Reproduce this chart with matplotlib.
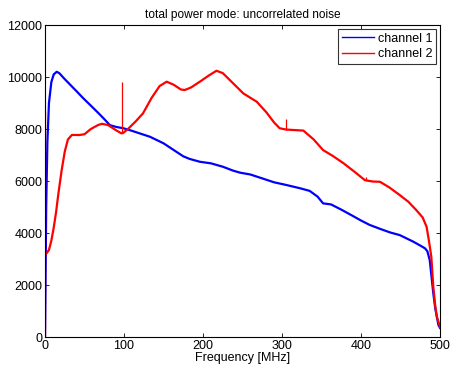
import matplotlib
matplotlib.use("Agg")
import matplotlib.pyplot as plt

plt.rcParams['font.family'] = ['Liberation Sans', 'DejaVu Sans']

# Channel 1 total power spectrum (MHz, counts)
freq_ch1 = [0, 0.5, 1.5, 3, 5, 8, 11, 14.8, 18, 24, 32, 40, 48.5, 58, 68, 76, 82, 90, 99,
            108, 118, 133, 150, 165, 175, 183, 196, 210, 225, 238, 247, 260, 275, 290,
            305, 323, 335, 345, 352, 362, 375, 390, 400, 411, 425, 437, 449, 466, 476,
            481, 484, 487, 489, 491.5, 494, 498, 500]
power_ch1 = [0, 1500, 5000, 7500, 9000, 9800, 10100, 10200, 10150, 9950, 9700, 9450, 9180,
             8900, 8600, 8350, 8150, 8080, 8030, 7950, 7850, 7700, 7450, 7150, 6950, 6850,
             6740, 6680, 6550, 6400, 6320, 6250, 6100, 5950, 5850, 5720, 5620, 5400, 5140,
             5100, 4900, 4650, 4480, 4310, 4150, 4020, 3920, 3670, 3500, 3410, 3300, 2960,
             2400, 1690, 1100, 460, 350]

# Channel 2 total power spectrum (MHz, counts)
freq_ch2 = [1, 2, 5, 8, 11, 14, 17, 21, 25, 29, 34, 44, 50, 58, 67, 72, 80, 90, 97, 99, 105,
            115, 124, 135, 145, 154, 163, 172, 177, 185, 196, 207, 217, 225, 235, 251, 260,
            268, 280, 290, 297, 305, 315, 327, 340, 352, 365, 378, 392, 405, 415, 424, 436,
            449, 460, 470, 478, 483, 486, 489, 491.5, 494, 496, 500]
power_ch2 = [3200, 3220, 3350, 3700, 4200, 4800, 5530, 6400, 7130, 7600, 7770, 7770, 7800,
             8000, 8150, 8200, 8150, 7950, 7830, 7850, 8000, 8300, 8600, 9200, 9650, 9820,
             9700, 9520, 9500, 9600, 9820, 10050, 10240, 10150, 9850, 9370, 9200, 9050,
             8650, 8250, 8030, 7980, 7960, 7940, 7600, 7190, 6950, 6680, 6350, 6030, 5980,
             5970, 5750, 5460, 5200, 4880, 4600, 4240, 3700, 3090, 1940, 1200, 780, 400]

# Narrow interference lines on channel 2 (frequency, bottom, top)
spike_freq_ch2 = [0.3, 98, 305, 406]
spike_low_ch2 = [0, 7830, 7980, 6030]
spike_high_ch2 = [8700, 9820, 8380, 6150]

x_ticks = [0, 100, 200, 300, 400, 500]
y_ticks = [0, 2000, 4000, 6000, 8000, 10000, 12000]

fig = plt.figure(figsize=(4.51, 3.65), dpi=100)
ax = fig.add_axes([0.0998, 0.0767, 0.8758, 0.8548])

ax.plot(freq_ch1, power_ch1, color='#0000ff', lw=1.6, label='channel 1')
ax.plot(freq_ch2, power_ch2, color='#ff0000', lw=1.6, label='channel 2')
ax.vlines(spike_freq_ch2, spike_low_ch2, spike_high_ch2, color='#ff0000', lw=0.9)

ax.set_xlim(0, 500)
ax.set_ylim(0, 12000)
ax.set_xticks(x_ticks)
ax.set_yticks(y_ticks)
ax.tick_params(direction='in', top=True, right=True, labelsize=9, length=3,
               width=0.6, pad=2)
for s in ax.spines.values():
    s.set_linewidth(0.8)

ax.set_xlabel('Frequency [MHz]', fontsize=9, labelpad=0)
ax.set_title('total power mode: uncorrelated noise', fontsize=8.6, pad=5)

leg = ax.legend(loc='upper right', fontsize=9, frameon=True, fancybox=False,
                borderaxespad=0.3, handlelength=2.6, handletextpad=0.3,
                labelspacing=0.3, borderpad=0.3)
leg.get_frame().set_edgecolor('black')
leg.get_frame().set_linewidth(0.8)
for line in leg.get_lines():
    line.set_linewidth(1.0)

fig.savefig('out.png', dpi=100)
